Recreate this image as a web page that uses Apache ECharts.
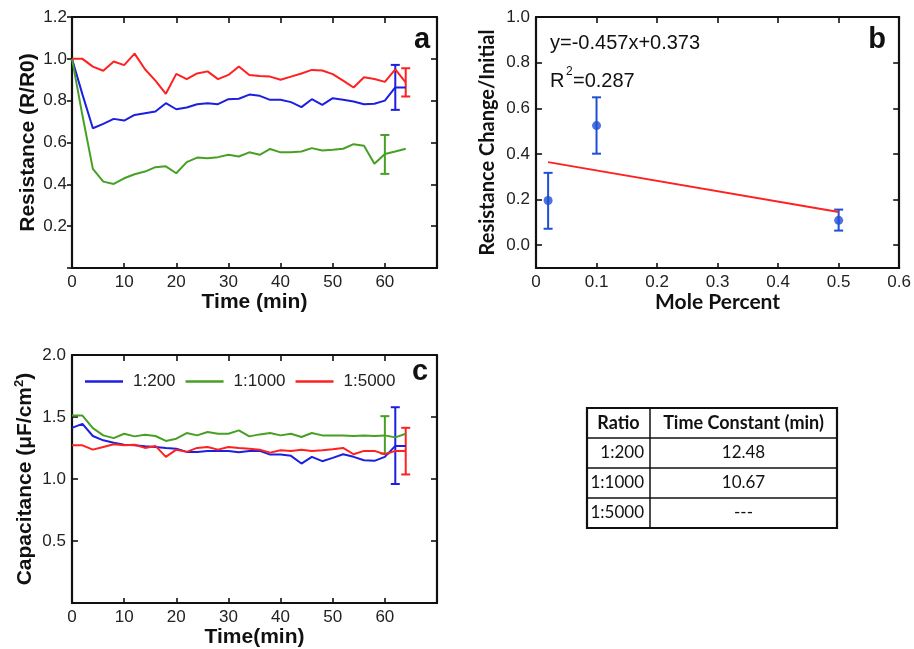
<!DOCTYPE html>
<html>
<head>
<meta charset="utf-8">
<script src="https://cdn.jsdelivr.net/npm/echarts@6/dist/echarts.min.js"></script>
<style>html,body{margin:0;padding:0;background:#fff}#main{width:914px;height:649px}</style>
</head>
<body>
<div id="main"></div>
<script>
// ---------- DATA ----------
const time = [0,2,4,6,8,10,12,14,16,18,20,22,24,26,28,30,32,34,36,38,40,42,44,46,48,50,52,54,56,58,60,62,64];
// Panel a: normalized resistance R/R0
const aBlue  = [1.0,0.83,0.668,0.689,0.713,0.705,0.732,0.74,0.748,0.788,0.759,0.767,0.783,0.788,0.783,0.807,0.809,0.829,0.823,0.804,0.804,0.793,0.769,0.807,0.78,0.812,0.804,0.796,0.783,0.785,0.80,0.863,0.863];
const aGreen = [1.0,0.73,0.474,0.413,0.402,0.429,0.448,0.461,0.482,0.486,0.453,0.506,0.528,0.525,0.53,0.541,0.533,0.553,0.541,0.569,0.553,0.553,0.557,0.573,0.562,0.565,0.57,0.592,0.585,0.498,0.545,0.557,0.57];
const aRed   = [1.0,1.0,0.963,0.943,0.987,0.97,1.025,0.95,0.896,0.833,0.928,0.903,0.93,0.94,0.903,0.923,0.963,0.923,0.918,0.915,0.90,0.915,0.93,0.947,0.944,0.927,0.896,0.863,0.912,0.904,0.89,0.95,0.888];
// error bars [time, low, high]
const aBlueErr  = [[62,0.756,0.971]];
const aGreenErr = [[60,0.45,0.636]];
const aRedErr   = [[64,0.82,0.955]];
// Panel b
const bX    = [0.02,0.1,0.5];
const bY    = [0.196,0.524,0.109];
const bLow  = [0.072,0.401,0.064];
const bHigh = [0.317,0.648,0.156];
const fitX  = [0.02,0.5];
const fitY  = [0.364,0.145];
const fitEquation = 'y=-0.457x+0.373';
const fitR2 = '0.287';
// Panel c: capacitance
const cBlue  = [1.413,1.445,1.347,1.312,1.293,1.277,1.272,1.264,1.259,1.251,1.245,1.219,1.219,1.227,1.227,1.227,1.216,1.227,1.227,1.197,1.197,1.187,1.125,1.179,1.144,1.171,1.2,1.179,1.152,1.147,1.179,1.267,1.267];
const cGreen = [1.512,1.512,1.41,1.352,1.33,1.365,1.344,1.357,1.347,1.307,1.325,1.371,1.352,1.379,1.365,1.365,1.392,1.344,1.36,1.371,1.352,1.365,1.339,1.371,1.352,1.352,1.352,1.347,1.352,1.347,1.352,1.336,1.365];
const cRed   = [1.272,1.272,1.237,1.259,1.28,1.272,1.277,1.251,1.267,1.179,1.237,1.219,1.251,1.259,1.237,1.259,1.251,1.245,1.237,1.213,1.232,1.227,1.237,1.227,1.232,1.24,1.251,1.2,1.227,1.227,1.2,1.227,1.227];
const cBlueErr  = [[62,0.96,1.579]];
const cGreenErr = [[60,1.205,1.507]];
const cRedErr   = [[64,1.037,1.413]];
const seriesNames = ['1:200','1:1000','1:5000'];
// Table
const tableHeader = ['Ratio','Time Constant (min)'];
const tableRatios = ['1:200','1:1000','1:5000'];
const tableConstants = ['12.48','10.67','---'];

// ---------- STYLE ----------
const BLUE = '#1c1fe0', GREEN = '#47a024', RED = '#ff2020', BBLUE = '#1f4fd4';
const tickFont = {fontFamily:'Liberation Sans', fontSize:17, color:'#222'};
const titleFont = {fontFamily:'Liberation Sans', fontSize:21, fontWeight:'bold', color:'#111'};
const axLine = {show:true, onZero:false, lineStyle:{color:'#111', width:2.2}};
const tickStyle = {color:'#111', width:1.6};

function zip(x, y){ return x.map((v,i)=>[v,y[i]]); }

function errRender(capHalf){
  return function(params, api){
    const x = api.value(0), lo = api.value(1), hi = api.value(2);
    const p1 = api.coord([x, lo]), p2 = api.coord([x, hi]);
    const st = {stroke: api.visual('color'), lineWidth: 2};
    return {type:'group', children:[
      {type:'line', shape:{x1:p1[0],y1:p1[1],x2:p2[0],y2:p2[1]}, style:st},
      {type:'line', shape:{x1:p1[0]-capHalf,y1:p1[1],x2:p1[0]+capHalf,y2:p1[1]}, style:st},
      {type:'line', shape:{x1:p2[0]-capHalf,y1:p2[1],x2:p2[0]+capHalf,y2:p2[1]}, style:st}
    ]};
  };
}

function mainX(grid, min, max, interval, name, gap, hideMax){
  return {type:'value', gridIndex:grid, min, max, interval, position:'bottom',
    name, nameLocation:'middle', nameGap:gap, nameTextStyle:titleFont,
    axisLine:axLine, splitLine:{show:false},
    axisTick:{show:true, inside:true, length:5, lineStyle:tickStyle},
    axisLabel:Object.assign({margin:6, formatter: v => (hideMax && v >= max - 1e-9) ? '' : String(+v.toFixed(2))}, tickFont)};
}
function topX(grid, min, max, interval){
  return {type:'value', gridIndex:grid, min, max, interval, position:'top',
    axisLine:axLine, splitLine:{show:false}, axisLabel:{show:false},
    axisTick:{show:true, inside:true, length:6, lineStyle:tickStyle}};
}
function rightY(grid, min, max, interval){
  return {type:'value', gridIndex:grid, min, max, interval, position:'right',
    axisLine:axLine, splitLine:{show:false}, axisLabel:{show:false},
    axisTick:{show:true, inside:true, length:6, lineStyle:tickStyle}};
}

const chart = echarts.init(document.getElementById('main'), null, {renderer:'canvas'});

const bTicks = [0,0.2,0.4,0.6,0.8,1.0];

const option = {
  animation:false,
  backgroundColor:'#fff',
  grid:[
    {left:72, top:17, width:365, height:251},
    {left:536, top:17, width:366, height:251},
    {left:72, top:355, width:365, height:251}
  ],
  xAxis:[
    mainX(0, 0, 70, 10, 'Time (min)', 21, true),
    topX(0, 0, 70, 10),
    Object.assign(mainX(1, 0, 0.6, 0.1, 'Mole Percent', 24, false), {nameTextStyle:{fontFamily:'Lato', fontSize:21, fontWeight:'bold', color:'#111'}}),
    topX(1, 0, 0.6, 0.1),
    mainX(2, 0, 70, 10, 'Time(min)', 20, true),
    topX(2, 0, 70, 10)
  ],
  yAxis:[
    {type:'value', gridIndex:0, min:0, max:1.2, interval:0.2, name:'Resistance (R/R0)', nameLocation:'middle', nameGap:33, nameRotate:90,
      nameTextStyle:titleFont, axisLine:axLine, splitLine:{show:false},
      axisTick:{show:true, inside:false, length:5, lineStyle:tickStyle},
      axisLabel:Object.assign({margin:5, formatter: v => v === 0 ? '' : v.toFixed(1)}, tickFont)},
    rightY(0, 0, 1.2, 0.2),
    {type:'value', gridIndex:1, min:-0.1, max:1.0, name:'Resistance Change/Initial', nameLocation:'middle', nameGap:38, nameRotate:90,
      nameTextStyle:{fontFamily:'Lato', fontSize:20, fontWeight:'bold', color:'#111'}, axisLine:axLine, splitLine:{show:false},
      axisTick:{show:true, inside:true, length:6, lineStyle:tickStyle, customValues:bTicks},
      axisLabel:Object.assign({margin:6, customValues:bTicks, formatter: v => v.toFixed(1)}, tickFont)},
    {type:'value', gridIndex:1, min:-0.1, max:1.0, position:'right', axisLine:axLine, splitLine:{show:false}, axisLabel:{show:false},
      axisTick:{show:true, inside:true, length:6, lineStyle:tickStyle, customValues:bTicks}},
    {type:'value', gridIndex:2, min:0, max:2.0, interval:0.5, name:'Capacitance (μF/cm{sup|2})', nameLocation:'middle', nameGap:30, nameRotate:90,
      nameTextStyle:Object.assign({rich:{sup:{fontFamily:'Liberation Sans', fontSize:13, fontWeight:'bold', color:'#111', verticalAlign:'top', lineHeight:26}}}, titleFont, {lineHeight:26}),
      axisLine:axLine, splitLine:{show:false},
      axisTick:{show:true, inside:true, length:6, lineStyle:tickStyle},
      axisLabel:Object.assign({margin:6, formatter: v => v === 0 ? '' : v.toFixed(1)}, tickFont)},
    rightY(2, 0, 2.0, 0.5)
  ],
  legend:{
    data:seriesNames, left:80, top:368, icon:'rect', itemWidth:38, itemHeight:2.5, itemGap:10,
    textStyle:{fontFamily:'Liberation Sans', fontSize:17, color:'#222', padding:[0,0,0,5]}
  },
  graphic:[],
  series:[
    // Panel a
    {name:'a-blue', type:'line', xAxisIndex:0, yAxisIndex:0, data:zip(time,aBlue), showSymbol:false, symbol:'none', lineStyle:{color:BLUE,width:2}, itemStyle:{color:BLUE}},
    {name:'a-green', type:'line', xAxisIndex:0, yAxisIndex:0, data:zip(time,aGreen), showSymbol:false, symbol:'none', lineStyle:{color:GREEN,width:2}, itemStyle:{color:GREEN}},
    {name:'a-red', type:'line', xAxisIndex:0, yAxisIndex:0, data:zip(time,aRed), showSymbol:false, symbol:'none', lineStyle:{color:RED,width:2}, itemStyle:{color:RED}},
    {name:'a-blue-err', type:'custom', xAxisIndex:0, yAxisIndex:0, data:aBlueErr, renderItem:errRender(4.5), itemStyle:{color:BLUE}, encode:{x:0,y:[1,2]}},
    {name:'a-green-err', type:'custom', xAxisIndex:0, yAxisIndex:0, data:aGreenErr, renderItem:errRender(4.5), itemStyle:{color:GREEN}, encode:{x:0,y:[1,2]}},
    {name:'a-red-err', type:'custom', xAxisIndex:0, yAxisIndex:0, data:aRedErr, renderItem:errRender(4.5), itemStyle:{color:RED}, encode:{x:0,y:[1,2]}},
    // Panel b
    {name:'fit', type:'line', xAxisIndex:2, yAxisIndex:2, data:zip(fitX,fitY), symbol:'none', lineStyle:{color:RED,width:2}, itemStyle:{color:RED}},
    {name:'b-err', type:'custom', xAxisIndex:2, yAxisIndex:2, data:bX.map((x,i)=>[x,bLow[i],bHigh[i]]), renderItem:errRender(4.5), itemStyle:{color:BBLUE}, encode:{x:0,y:[1,2]}},
    {name:'b-pts', type:'scatter', xAxisIndex:2, yAxisIndex:2, data:zip(bX,bY), symbol:'circle', symbolSize:9, itemStyle:{color:BBLUE}},
    // Panel c
    {name:'1:200', type:'line', xAxisIndex:4, yAxisIndex:4, data:zip(time,cBlue), showSymbol:false, symbol:'none', lineStyle:{color:BLUE,width:2}, itemStyle:{color:BLUE}},
    {name:'1:1000', type:'line', xAxisIndex:4, yAxisIndex:4, data:zip(time,cGreen), showSymbol:false, symbol:'none', lineStyle:{color:GREEN,width:2}, itemStyle:{color:GREEN}},
    {name:'1:5000', type:'line', xAxisIndex:4, yAxisIndex:4, data:zip(time,cRed), showSymbol:false, symbol:'none', lineStyle:{color:RED,width:2}, itemStyle:{color:RED}},
    {name:'c-blue-err', type:'custom', xAxisIndex:4, yAxisIndex:4, data:cBlueErr, renderItem:errRender(4.5), itemStyle:{color:BLUE}, encode:{x:0,y:[1,2]}},
    {name:'c-green-err', type:'custom', xAxisIndex:4, yAxisIndex:4, data:cGreenErr, renderItem:errRender(4.5), itemStyle:{color:GREEN}, encode:{x:0,y:[1,2]}},
    {name:'c-red-err', type:'custom', xAxisIndex:4, yAxisIndex:4, data:cRedErr, renderItem:errRender(4.5), itemStyle:{color:RED}, encode:{x:0,y:[1,2]}}
  ]
};

// ---------- annotations & table (graphic) ----------
const G = option.graphic;
function txt(x, y, text, font, align, valign, fill){
  G.push({type:'text', x:0, y:0, silent:true, style:{x, y, text, font, fill:fill||'#111',
    textAlign:align||'left', textVerticalAlign:valign||'middle', align:align||'left', verticalAlign:valign||'middle'}});
}
const letterFont = 'bold 29px "Liberation Sans"';
txt(422, 40, 'a', letterFont, 'center');
txt(877, 40, 'b', letterFont, 'center');
txt(420, 372, 'c', letterFont, 'center');
const annFont = '20px "Liberation Sans"';
txt(550, 43, fitEquation, annFont, 'left');
txt(550, 81, 'R', annFont, 'left');
txt(566, 72, '2', '12px "Liberation Sans"', 'left');
txt(573, 81, '=' + fitR2, annFont, 'left');

// table
const tL = 587, tR = 837, tC = 650, tT = 408, rowH = 30;
const nRows = tableRatios.length + 1;
const tB = tT + rowH * nRows;
G.push({type:'rect', shape:{x:tL, y:tT, width:tR-tL, height:tB-tT}, style:{fill:'#fff', stroke:'#111', lineWidth:2.2}, silent:true});
G.push({type:'line', shape:{x1:tC, y1:tT, x2:tC, y2:tB}, style:{stroke:'#111', lineWidth:1.5}, silent:true});
for (let r = 1; r < nRows; r++){
  G.push({type:'line', shape:{x1:tL, y1:tT+r*rowH, x2:tR, y2:tT+r*rowH}, style:{stroke:'#111', lineWidth:1.5}, silent:true});
}
const hFont = 'bold 18px Lato', bFont = '17px Lato';
txt((tL+tC)/2, tT + rowH/2, tableHeader[0], hFont, 'center');
txt((tC+tR)/2, tT + rowH/2, tableHeader[1], hFont, 'center');
tableRatios.forEach((r,i)=>{
  txt(tC-6, tT + rowH*(i+1) + rowH/2, r, bFont, 'right');
  txt((tC+tR)/2, tT + rowH*(i+1) + rowH/2, tableConstants[i], bFont, 'center');
});

chart.setOption(option);
</script>
</body>
</html>
